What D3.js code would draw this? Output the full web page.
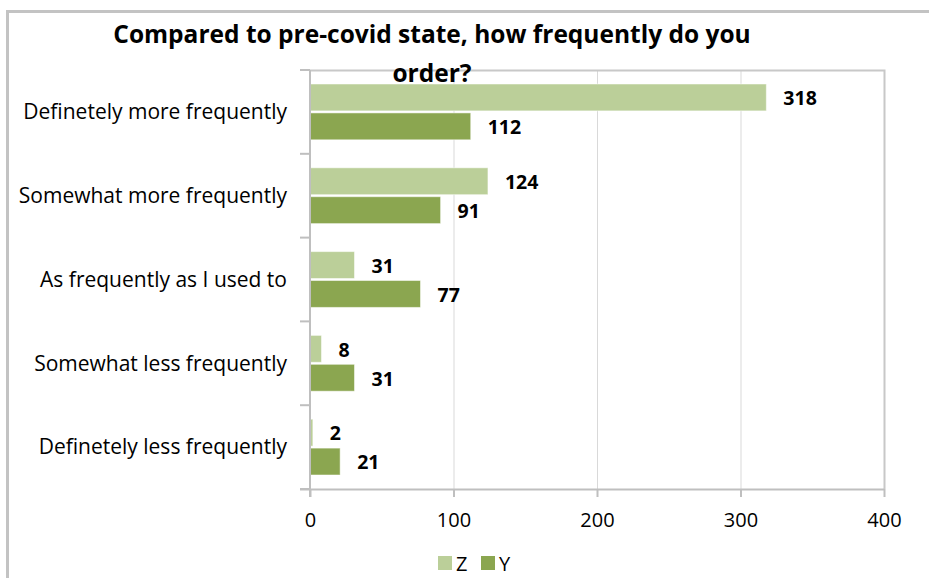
<!DOCTYPE html>
<html>
<head>
<meta charset="utf-8">
<script src="https://cdn.jsdelivr.net/npm/d3@7"></script>
<style>
  body { margin: 0; background: #fff; }
  svg { display: block; font-family: "Open Sans", sans-serif; }
</style>
</head>
<body>
<div id="chart"></div>
<script>
// Chart data.
let categories = [
    "Definetely more frequently",
    "Somewhat more frequently",
    "As frequently as I used to",
    "Somewhat less frequently",
    "Definetely less frequently"
];
let seriesNames = ["Z", "Y"];
let zValues = [318, 124, 31, 8, 2];
let yValues = [112, 91, 77, 31, 21];
let xTicks = [0, 100, 200, 300, 400];

let width = 929;
let height = 578;
let margin = { top: 70, right: 45, bottom: 89, left: 310 };

let color = d3.scaleOrdinal(seriesNames, ["#bbcf99", "#8ba650"]);

let svg = d3.select("#chart")
    .append("svg")
    .attr("width", width)
    .attr("height", height);

// Outer chart frame (only top and left edges show).
svg.append("path")
    .attr("d", `M7.5,${height} V11.5 H${width}`)
    .attr("fill", "none")
    .attr("stroke", "#c3c3c3")
    .attr("stroke-width", 3);

let x = d3.scaleLinear()
    .domain([0, 400])
    .range([margin.left, width - margin.right]);

let y0 = d3.scaleBand()
    .domain(categories)
    .range([margin.top, height - margin.bottom]);

let y1 = d3.scaleBand()
    .domain(seriesNames)
    .range([14, y0.bandwidth() - 14])
    .paddingInner(0.07);

let plotTop = margin.top;
let plotBottom = height - margin.bottom;

// Vertical gridlines.
svg.append("g")
    .selectAll("line")
    .data(xTicks.slice(1))
    .enter()
    .append("line")
    .attr("x1", d => x(d) + 0.5)
    .attr("x2", d => x(d) + 0.5)
    .attr("y1", plotTop)
    .attr("y2", plotBottom)
    .attr("stroke", "#d9d9d9")
    .attr("stroke-width", 1);

// Plot area top border and right border.
svg.append("path")
    .attr("d", `M${x(0)},${plotTop + 0.5} H${x(400) + 0.5} V${plotBottom}`)
    .attr("fill", "none")
    .attr("stroke", "#c8c8c8")
    .attr("stroke-width", 2);

// Bars.
let rows = categories.map((c, i) => ({ category: c, Z: zValues[i], Y: yValues[i] }));

let groups = svg.append("g")
    .selectAll("g")
    .data(rows)
    .enter()
    .append("g")
    .attr("transform", d => `translate(0,${y0(d.category)})`);

groups.selectAll("rect")
    .data(d => seriesNames.map(s => ({ series: s, value: d[s] })))
    .enter()
    .append("rect")
    .attr("x", x(0))
    .attr("y", d => y1(d.series))
    .attr("width", d => x(d.value) - x(0))
    .attr("height", y1.bandwidth())
    .attr("fill", d => color(d.series))
    .attr("stroke", "rgba(255,255,255,0.5)")
    .attr("stroke-width", 1);

// Data labels.
groups.selectAll("text")
    .data(d => seriesNames.map(s => ({ series: s, value: d[s] })))
    .enter()
    .append("text")
    .attr("x", d => x(d.value) + 17)
    .attr("y", d => y1(d.series) + y1.bandwidth() / 2 + 1)
    .attr("dy", "0.35em")
    .attr("font-size", 19.5)
    .attr("font-weight", "bold")
    .attr("fill", "#000")
    .text(d => d.value);

// Left axis.
let yAxis = svg.append("g");
yAxis.append("line")
    .attr("x1", x(0)).attr("x2", x(0))
    .attr("y1", plotTop).attr("y2", plotBottom + 8)
    .attr("stroke", "#bfbfbf").attr("stroke-width", 2);
yAxis.selectAll(".tick")
    .data(categories.map(c => y0(c)).concat([plotBottom]))
    .enter()
    .append("line")
    .attr("x1", x(0) - 10).attr("x2", x(0))
    .attr("y1", d => d).attr("y2", d => d)
    .attr("stroke", "#bfbfbf").attr("stroke-width", 2);
yAxis.selectAll("text")
    .data(categories)
    .enter()
    .append("text")
    .attr("x", 287)
    .attr("y", d => y0(d) + y0.bandwidth() / 2)
    .attr("dy", "0.35em")
    .attr("text-anchor", "end")
    .attr("font-size", 21)
    .attr("fill", "#000")
    .text(d => d);

// Bottom axis.
let xAxis = svg.append("g")
    .attr("transform", `translate(0,${plotBottom})`)
    .call(d3.axisBottom(x).tickValues(xTicks).tickSize(8).tickSizeOuter(0).tickPadding(16));
xAxis.select(".domain")
    .attr("d", `M${x(0) - 10},0.5H${x(400)}`)
    .attr("stroke", "#bfbfbf").attr("stroke-width", 2);
xAxis.selectAll(".tick line").attr("stroke", "#bfbfbf").attr("stroke-width", 2);
xAxis.selectAll(".tick text")
    .attr("font-size", 20)
    .attr("font-family", "'Open Sans', sans-serif")
    .attr("fill", "#000");

// Title.
let title = svg.append("text")
    .attr("x", 432)
    .attr("text-anchor", "middle")
    .attr("font-size", 24.5)
    .attr("font-weight", "bold")
    .attr("fill", "#000");
title.append("tspan").attr("x", 432).attr("y", 43).text("Compared to pre-covid state, how frequently do you");
title.append("tspan").attr("x", 432).attr("y", 82).text("order?");

// Legend.
let legend = svg.append("g")
    .attr("transform", "translate(438,556)");
let legendItems = legend.selectAll("g")
    .data(seriesNames)
    .enter()
    .append("g")
    .attr("transform", (d, i) => `translate(${i * 43},0)`);
legendItems.append("rect")
    .attr("width", 14)
    .attr("height", 14)
    .attr("fill", d => color(d));
legendItems.append("text")
    .attr("x", 18)
    .attr("y", 8)
    .attr("dy", "0.35em")
    .attr("font-size", 20)
    .attr("fill", "#000")
    .text(d => d);
</script>
</body>
</html>
